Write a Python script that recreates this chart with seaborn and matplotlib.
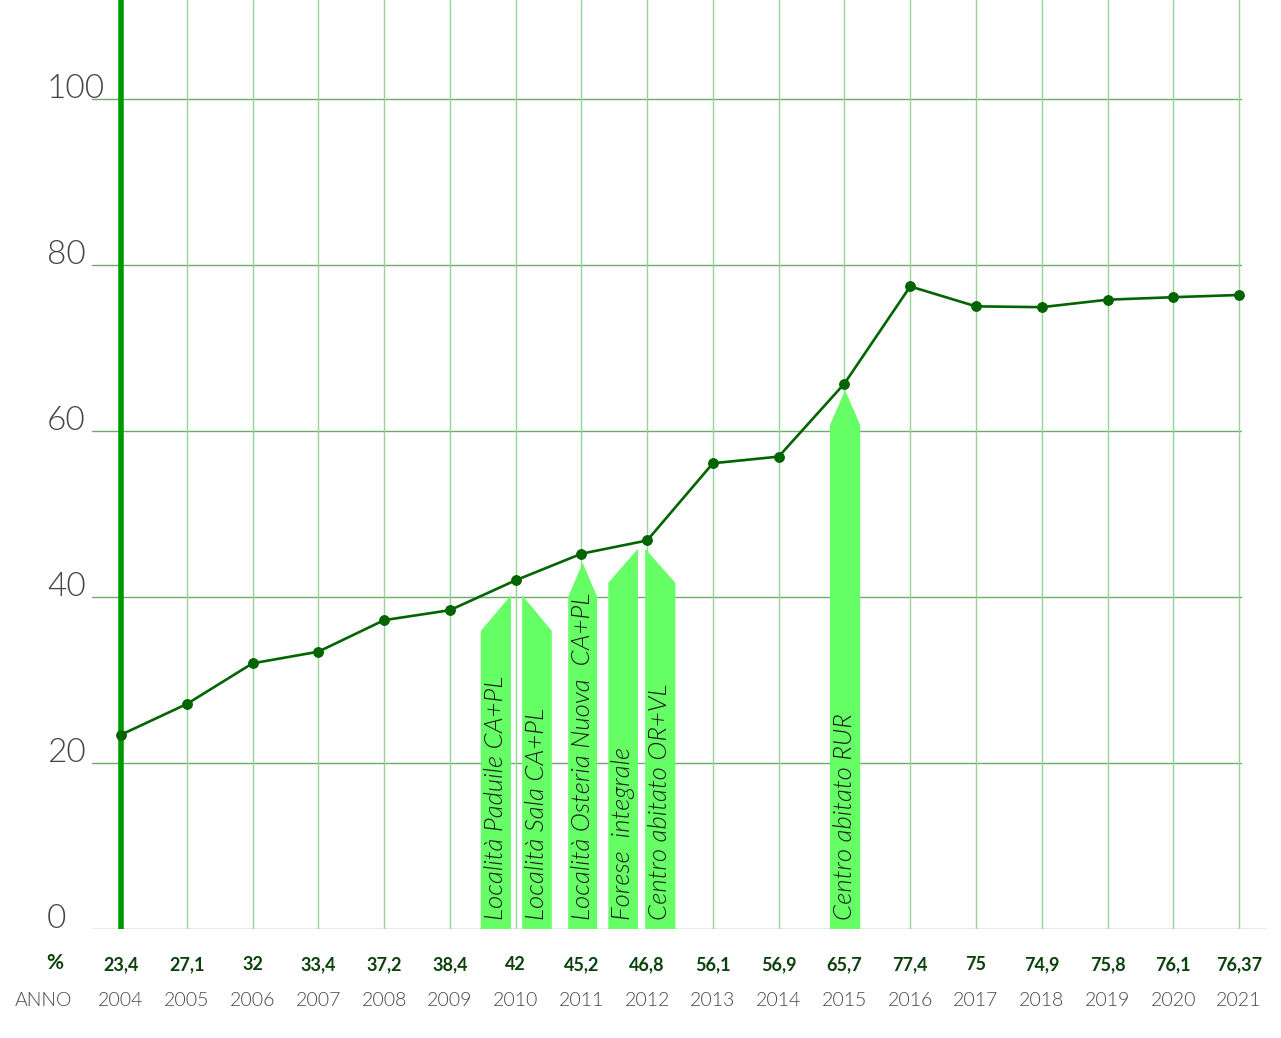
import matplotlib
matplotlib.use('Agg')
import matplotlib.pyplot as plt
import matplotlib.transforms as mtransforms
import pandas as pd
import seaborn as sns

# Dati
anni = [2004, 2005, 2006, 2007, 2008, 2009, 2010, 2011, 2012,
        2013, 2014, 2015, 2016, 2017, 2018, 2019, 2020, 2021]
percentuali = [23.4, 27.1, 32, 33.4, 37.2, 38.4, 42, 45.2, 46.8,
               56.1, 56.9, 65.7, 77.4, 75, 74.9, 75.8, 76.1, 76.37]
y_ticks = [0, 20, 40, 60, 80, 100]

# Frecce (avvio raccolta porta a porta)
frecce_testo = ['Località Paduile CA+PL', 'Località Sala CA+PL',
                'Località Osteria Nuova  CA+PL', 'Forese  integrale',
                'Centro abitato OR+VL', 'Centro abitato RUR']
frecce_sx = [2009.47, 2010.10, 2010.80, 2011.41, 2011.97, 2014.78]
frecce_dx = [2009.93, 2010.55, 2011.24, 2011.86, 2012.43, 2015.24]
frecce_spalla = [35.9, 35.9, 40.0, 41.7, 41.7, 60.7]
frecce_punta = [40.2, 40.2, 44.1, 45.8, 45.8, 64.9]
frecce_tipo = ['dx', 'sx', 'centro', 'dx', 'sx', 'centro']

df = pd.DataFrame({'anno': anni, 'perc': percentuali})

sns.set_style('white')
plt.rcParams['font.family'] = ['Lato', 'DejaVu Sans']

fig = plt.figure(figsize=(12.81, 10.38), dpi=100)
ax = fig.add_axes([92 / 1281, 109 / 1038, 1174 / 1281, 929 / 1038])
x0, x1 = 2003.559, 2021.41
ax.set_xlim(x0, x1)
ax.set_ylim(0, 111.9)
for s in ax.spines.values():
    s.set_visible(False)
ax.set_xticks([])
ax.set_yticks([])

# Griglia
for v in y_ticks:
    fine = x1 if v == 0 else 2021.03
    ax.plot([x0, fine], [v, v], color='#6aad6a', lw=1, zorder=1)
for a in anni[1:]:
    ax.axvline(a, color='#98d298', lw=1, zorder=1)
ax.axvline(2004, color='#009900', lw=4, zorder=1)

# Frecce
for testo, sx, dx, sp, pt, tipo in zip(frecce_testo, frecce_sx, frecce_dx,
                                       frecce_spalla, frecce_punta, frecce_tipo):
    if tipo == 'dx':
        xs = [sx, sx, dx, dx]
        ys = [0, sp, pt, 0]
    elif tipo == 'sx':
        xs = [sx, sx, dx, dx]
        ys = [0, pt, sp, 0]
    else:
        xs = [sx, sx, (sx + dx) / 2, dx, dx]
        ys = [0, sp, pt, sp, 0]
    ax.fill(xs, ys, color='#66ff66', lw=0, zorder=2)
    ax.text((sx + dx) / 2, 1.1, testo, rotation=90, ha='center', va='bottom',
            fontsize=18.5, fontstyle='italic', fontweight=300,
            color='#1a1a1a', zorder=3)

# Linea
sns.lineplot(data=df, x='anno', y='perc', ax=ax, color='#006400',
             linewidth=1.9, marker='o', markersize=7,
             markeredgecolor='#006400', zorder=4)
ax.set_xlabel('')
ax.set_ylabel('')

# Etichette asse y
for v in y_ticks:
    ax.text(-0.0383, v + 1.2, str(v), transform=ax.get_yaxis_transform(),
            ha='left', va='center', fontsize=24, fontweight=300,
            color='#444444', clip_on=False)

# Righe in basso
trans = mtransforms.blended_transform_factory(ax.transData, fig.transFigure)
fig.text(55 / 1281, 1 - 969 / 1038, '%', ha='center', va='baseline',
         fontsize=15, fontweight='bold', color='#0a400a')
fig.text(43 / 1281, 1 - 1006 / 1038, 'ANNO', ha='center', va='baseline',
         fontsize=14, fontweight=300, color='#444444')
for a, p in zip(anni, percentuali):
    ax.text(a, 1 - 970 / 1038, f'{p:g}'.replace('.', ','), transform=trans,
            ha='center', va='baseline', fontsize=13, fontweight='bold',
            color='#0a400a')
    ax.text(a, 1 - 1006 / 1038, str(a), transform=trans,
            ha='center', va='baseline', fontsize=14, fontweight=300,
            color='#444444')

fig.savefig('out.png', dpi=100)
